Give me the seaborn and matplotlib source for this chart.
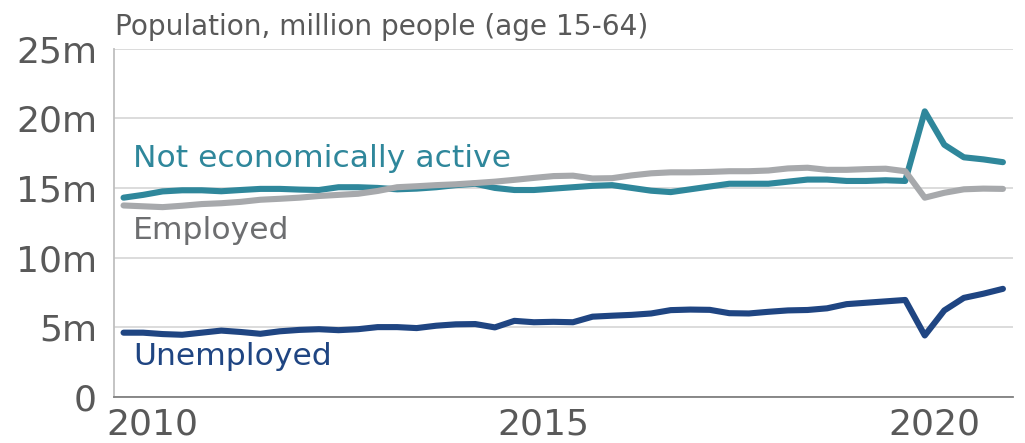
import pandas as pd
import numpy as np
import matplotlib.pyplot as plt
import seaborn as sns

# quarterly data, 2010 Q1 - 2021 Q2 (million people)
quarters = pd.period_range('2010Q1', '2021Q2', freq='Q')

not_active = [14.3, 14.5, 14.75, 14.83, 14.83, 14.76, 14.85, 14.93,
              14.93, 14.88, 14.85, 15.05, 15.05, 15.0, 14.9, 14.95,
              15.05, 15.2, 15.3, 15.0, 14.85, 14.85, 14.95, 15.05,
              15.15, 15.2, 15.0, 14.8, 14.7, 14.9, 15.1, 15.3,
              15.3, 15.3, 15.45, 15.6, 15.6, 15.5, 15.5, 15.55,
              15.5, 20.5, 18.1, 17.2, 17.05, 16.85]
employed = [13.74, 13.68, 13.62, 13.72, 13.84, 13.9, 14.0, 14.15,
            14.22, 14.3, 14.42, 14.5, 14.58, 14.78, 15.05, 15.12,
            15.2, 15.26, 15.35, 15.45, 15.58, 15.72, 15.85, 15.88,
            15.68, 15.7, 15.9, 16.05, 16.12, 16.12, 16.15, 16.2,
            16.2, 16.25, 16.4, 16.45, 16.3, 16.3, 16.35, 16.38,
            16.2, 14.3, 14.65, 14.9, 14.95, 14.93]
unemployed = [4.6, 4.6, 4.5, 4.45, 4.6, 4.75, 4.65, 4.52,
              4.7, 4.8, 4.85, 4.78, 4.85, 5.0, 5.0, 4.93,
              5.1, 5.2, 5.22, 4.98, 5.45, 5.35, 5.38, 5.35,
              5.75, 5.82, 5.88, 5.98, 6.22, 6.26, 6.24, 6.0,
              5.98, 6.1, 6.2, 6.23, 6.35, 6.65, 6.75, 6.85,
              6.95, 4.4, 6.2, 7.1, 7.4, 7.75]

series_names = ['Not economically active', 'Employed', 'Unemployed']
colors = {'Not economically active': '#2f879b',
          'Employed': '#a7a9ac',
          'Unemployed': '#1f4582'}
label_colors = {'Not economically active': '#2f879b',
                'Employed': '#6d6e70',
                'Unemployed': '#1f4582'}
y_ticks = [0, 5, 10, 15, 20, 25]
y_labels = ['0', '5m', '10m', '15m', '20m', '25m']
year_labels = [2010, 2015, 2020]

# x position = middle of each quarter in decimal years
t = np.array([q.year + (q.quarter - 1) / 4 + 0.125 for q in quarters])
df = pd.DataFrame({'t': np.tile(t, 3),
                   'value': not_active + employed + unemployed,
                   'series': np.repeat(series_names, len(t))})

sns.set_style('white')
plt.rcParams['font.family'] = ['DejaVu Sans']

fig = plt.figure(figsize=(10.25, 4.43), dpi=100)
ax = fig.add_axes([0.111, 0.1045, 0.877, 0.7855])

ax.yaxis.grid(True, color='#d9d9d9', linewidth=1.3)
ax.set_axisbelow(True)

sns.lineplot(data=df, x='t', y='value', hue='series', hue_order=series_names,
             palette=colors, linewidth=4.4, legend=False, ax=ax,
             solid_capstyle='round', solid_joinstyle='round')
ax.set_xlabel('')
ax.set_ylabel('')

ax.set_xlim(2010, 2021.5)
ax.set_ylim(0, 25)
ax.set_yticks(y_ticks)
ax.set_yticklabels(y_labels)
ax.tick_params(axis='y', length=0, pad=12, labelsize=26, labelcolor='#595959')

# year ticks tall, quarter ticks short, both pointing up
ax.set_xticks(np.arange(2010, 2022))
ax.set_xticks(np.arange(2010, 2021.51, 0.25), minor=True)
ax.set_xticklabels([])
ax.tick_params(axis='x', which='major', direction='in', length=17,
               width=1, color='#a6a6a6')
ax.tick_params(axis='x', which='minor', direction='in', length=5,
               width=1, color='#a6a6a6')
for yr in year_labels:
    ax.text(yr + 0.5, -0.03, str(yr), transform=ax.get_xaxis_transform(),
            ha='center', va='top', fontsize=26, color='#595959')

for side in ['top', 'right']:
    ax.spines[side].set_visible(False)
ax.spines['left'].set_color('#bfbfbf')
ax.spines['left'].set_linewidth(1.3)
ax.spines['bottom'].set_color('#808080')
ax.spines['bottom'].set_linewidth(1.3)

# series labels
ax.text(2010.25, 16.5, 'Not economically active', fontsize=22.6,
        color=label_colors['Not economically active'], va='baseline')
ax.text(2010.25, 11.3, 'Employed', fontsize=22.6,
        color=label_colors['Employed'], va='baseline')
ax.text(2010.25, 2.26, 'Unemployed', fontsize=22.6,
        color=label_colors['Unemployed'], va='baseline')

fig.text(0.112, 0.921, 'Population, million people (age 15-64)',
         fontsize=20.2, color='#595959', ha='left', va='baseline')

fig.savefig('out.png', dpi=100)
